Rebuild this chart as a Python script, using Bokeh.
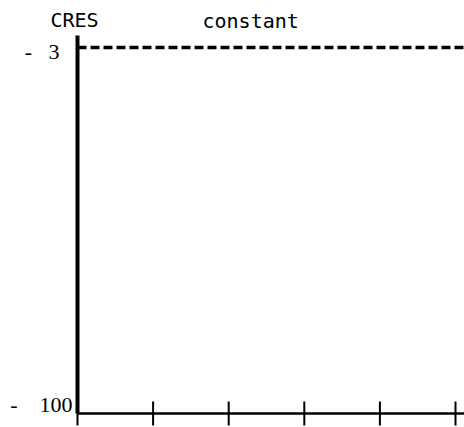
import math
from bokeh.plotting import figure
from bokeh.models import Range1d, Label
from bokeh.core.properties import value
from bokeh.embed import file_html
from bokeh.resources import INLINE

# data
x_ticks = [0, 1, 2, 3, 4, 5]
series_x = [0, 5.12]
series_y = [-3, -3]
y_min = -100
y_top = 0.2
y_label_values = [-3, -100]
y_label_texts = ["-\u00a0\u00a0\u00a03", "-\u00a0\u00a0\u00a0\u00a0100"]
y_label_dx = [-18, -5]
y_label_dy = [4, -9]
y_axis_title = "CRES"
series_name = "constant"

X0, X1 = -1.0185, 5.119
p = figure(width=464, height=427, output_backend="svg", toolbar_location=None,
           x_range=Range1d(X0, X1), y_range=Range1d(-103.71, 9.457),
           x_axis_location=None, y_axis_location=None,
           min_border=0)
p.background_fill_color = None
p.border_fill_color = None
p.outline_line_color = None
p.grid.visible = False

# constant series
p.line(series_x, series_y, line_color="black", line_width=3.5, line_dash="9 4")

# axes drawn from the data ranges
p.line([x_ticks[0], x_ticks[0]], [y_min, y_top], line_color="black", line_width=4)
p.line([x_ticks[0], X1], [y_min, y_min], line_color="black", line_width=2.5)
p.scatter(x_ticks, [y_min] * len(x_ticks), marker="dash", angle=math.pi / 2,
          size=24, line_color="black", line_width=2)

# y tick labels
p.text(x=[x_ticks[0]] * len(y_label_values), y=y_label_values, text=y_label_texts,
       x_offset=y_label_dx, y_offset=y_label_dy,
       text_align="right", text_baseline="middle",
       text_font=value("Liberation Serif"), text_font_size="22px", text_color="black")

p.add_layout(Label(x=50, y=408, x_units="screen", y_units="screen", text=y_axis_title,
                   text_font="DejaVu Sans Mono", text_font_size="20px",
                   text_baseline="alphabetic", text_color="black"))
p.add_layout(Label(x=202, y=407, x_units="screen", y_units="screen", text=series_name,
                   text_font="DejaVu Sans Mono", text_font_size="20px",
                   text_baseline="alphabetic", text_color="black"))

open("out.html", "w").write(file_html(p, INLINE))
